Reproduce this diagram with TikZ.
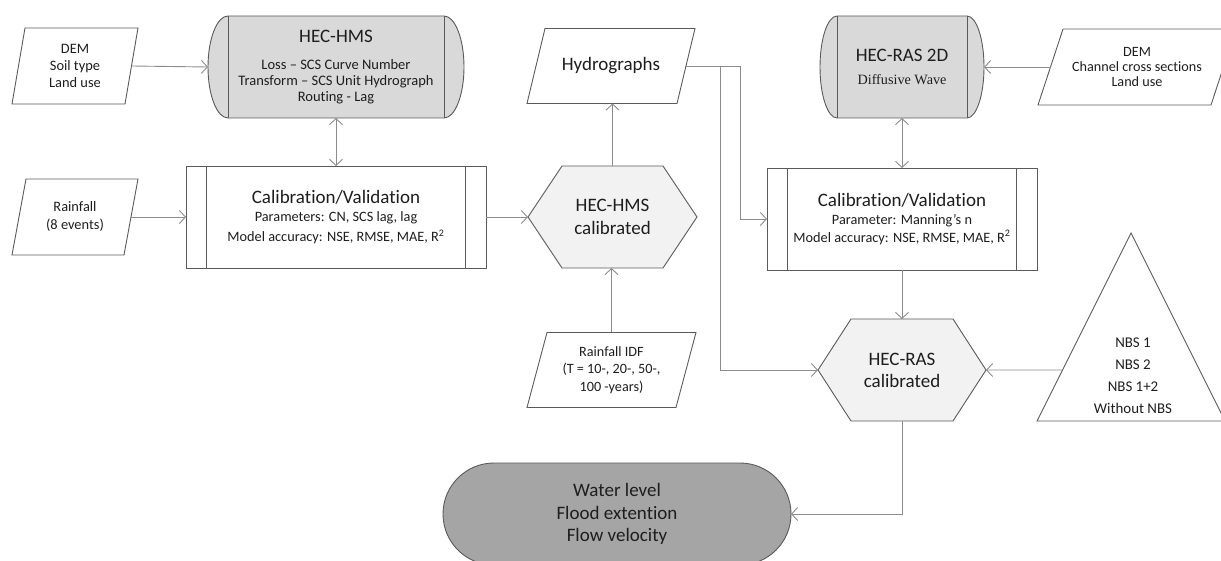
\documentclass[tikz,border=0pt]{standalone}
\usepackage{fontspec}
\setmainfont{Carlito}[Ligatures=NoCommon]
\newfontfamily\timesf{Liberation Serif}
\usetikzlibrary{arrows.meta,backgrounds,shapes.misc,calc}
\definecolor{conncol}{HTML}{8C8C8C}
\definecolor{edgecol}{HTML}{5A5A5A}
\definecolor{cylcol}{HTML}{D9D9D9}
\definecolor{hexcol}{HTML}{F2F2F2}
\definecolor{termcol}{HTML}{A5A5A5}
\definecolor{txtcol}{HTML}{1E1E1E}
\tikzset{
  base/.style={align=center, text=txtcol, inner sep=2pt, outer sep=0pt, draw=none},
  edge/.style={draw=edgecol, line width=0.9pt},
  fillcyl/.style={edge, fill=cylcol},
  fillhex/.style={edge, fill=hexcol},
  procbox/.style={base, draw=edgecol, line width=0.9pt, fill=white},
  conn/.style={draw=conncol, line width=0.9pt, -{Straight Barb[length=6pt,width=13pt]}},
  conntwo/.style={draw=conncol, line width=0.9pt, {Straight Barb[length=6pt,width=13pt]}-{Straight Barb[length=6pt,width=13pt]}},
  termbox/.style={base, shape=rounded rectangle, draw=edgecol, line width=0.9pt, fill=termcol},
}
\begin{document}
\begin{tikzpicture}[x=1pt,y=1pt]
\useasboundingbox (0,0) rectangle (1221,-561);

% ---------- nodes ----------
\node[base, font=\fontsize{14.4}{17}\selectfont, minimum width=113pt, minimum height=76pt] (dem1) at (75,-66) {DEM\\Soil type\\Land use};

\node[base, font=\fontsize{14.5}{16}\selectfont, minimum width=256pt, minimum height=102pt] (hms) at (336,-67)
  {{\fontsize{19}{19}\selectfont HEC-HMS}\\[11pt]Loss – SCS Curve Number\\Transform – SCS Unit Hydrograph\\Routing - Lag};

\node[base, font=\fontsize{14.4}{18}\selectfont, minimum width=112pt, minimum height=76pt] (rain1) at (75,-217) {Rainfall\\(8 events)};

\node[procbox, font=\fontsize{14.3}{20}\selectfont, minimum width=300pt, minimum height=102pt] (cal1) at (336,-217)
  {{\fontsize{19}{19}\selectfont Calibration/Validation}\\[-2pt]Parameters: CN, SCS lag, lag\\Model accuracy: NSE, RMSE, MAE, R\textsuperscript{2}};

\node[base, font=\fontsize{19}{23.5}\selectfont, minimum width=169pt, minimum height=102pt] (hexhms) at (612.5,-217) {HEC-HMS\\calibrated};

\node[base, font=\fontsize{19}{20}\selectfont, minimum width=150pt, minimum height=75pt] (hydro) at (611,-66) {Hydrographs};

\node[base, font=\fontsize{14.2}{17.5}\selectfont, minimum width=149pt, minimum height=75pt] (idf) at (611.5,-370) {Rainfall IDF\\(T = 10-, 20-, 50-,\\100 -years)};

\node[base, font=\fontsize{19}{22.5}\selectfont, minimum width=164pt, minimum height=102pt] (ras2d) at (902,-67)
  {HEC-RAS 2D\\{\timesf\fontsize{14.2}{14.2}\selectfont Diffusive Wave}};

\node[base, font=\fontsize{14.2}{15.5}\selectfont, minimum width=173pt, minimum height=76pt] (dem2) at (1137,-67) {DEM\\Channel cross sections\\Land use};

\node[procbox, font=\fontsize{14.3}{17.5}\selectfont, minimum width=270pt, minimum height=102pt] (cal2) at (902,-219)
  {{\fontsize{19}{19}\selectfont Calibration/Validation}\\[0.5pt]Parameter: Manning’s n\\Model accuracy: NSE, RMSE, MAE, R\textsuperscript{2}};

\node[base, font=\fontsize{19}{22}\selectfont, minimum width=168pt, minimum height=102pt] (hexras) at (902,-370) {HEC-RAS\\calibrated};

\coordinate (nbsA) at (1131,-233);
\coordinate (nbsL) at (1037,-421);
\coordinate (nbsR) at (1225,-421);
\coordinate (nbsin) at ($(nbsL)!0.2713!(nbsA)$);
\node[base, font=\fontsize{14.9}{22}\selectfont] (nbs) at (1133,-376) {NBS 1\\NBS 2\\NBS 1+2\\Without NBS};

\node[termbox, font=\fontsize{19}{22.5}\selectfont, minimum width=352pt, minimum height=102pt] (term) at (617,-514) {Water level\\Flood extention\\Flow velocity};

% ---------- shapes behind text ----------
\begin{pgfonlayer}{background}
  \path[fillcyl] ([xshift=20pt]hms.north west) -- ([xshift=-20pt]hms.north east)
     arc[start angle=90,end angle=-90,x radius=20pt,y radius=51pt]
     -- ([xshift=20pt]hms.south west)
     arc[start angle=270,end angle=90,x radius=20pt,y radius=51pt] -- cycle;
  \draw[edge] ([xshift=20pt]hms.north west) -- ([xshift=20pt]hms.south west);
  \draw[edge] ([xshift=-20pt]hms.north east) -- ([xshift=-20pt]hms.south east);
  \path[fillcyl] ([xshift=17pt]ras2d.north west) -- ([xshift=-17pt]ras2d.north east)
     arc[start angle=90,end angle=-90,x radius=17pt,y radius=51pt]
     -- ([xshift=17pt]ras2d.south west)
     arc[start angle=270,end angle=90,x radius=17pt,y radius=51pt] -- cycle;
  \draw[edge] ([xshift=17pt]ras2d.north west) -- ([xshift=17pt]ras2d.south west);
  \draw[edge] ([xshift=-17pt]ras2d.north east) -- ([xshift=-17pt]ras2d.south east);
  \path[fillhex] (hexhms.west) -- ([xshift=34pt]hexhms.north west) -- ([xshift=-34pt]hexhms.north east)
     -- (hexhms.east) -- ([xshift=-34pt]hexhms.south east) -- ([xshift=34pt]hexhms.south west) -- cycle;
  \path[fillhex] (hexras.west) -- ([xshift=33pt]hexras.north west) -- ([xshift=-33pt]hexras.north east)
     -- (hexras.east) -- ([xshift=-33pt]hexras.south east) -- ([xshift=33pt]hexras.south west) -- cycle;
\end{pgfonlayer}

\draw[edge] ([xshift=20pt]cal1.north west) -- ([xshift=20pt]cal1.south west);
\draw[edge] ([xshift=-21pt]cal1.north east) -- ([xshift=-21pt]cal1.south east);
\draw[edge] ([xshift=20pt]cal2.north west) -- ([xshift=20pt]cal2.south west);
\draw[edge] ([xshift=-21pt]cal2.north east) -- ([xshift=-21pt]cal2.south east);

\draw[edge] ([xshift=6.5pt]dem1.north west) -- ([xshift=6.5pt]dem1.north east) -- ([xshift=-6.5pt]dem1.south east) -- ([xshift=-6.5pt]dem1.south west) -- cycle;
\draw[edge] ([xshift=7pt]rain1.north west) -- ([xshift=7pt]rain1.north east) -- ([xshift=-7pt]rain1.south east) -- ([xshift=-7pt]rain1.south west) -- cycle;
\draw[edge] ([xshift=9pt]hydro.north west) -- ([xshift=9pt]hydro.north east) -- ([xshift=-9pt]hydro.south east) -- ([xshift=-9pt]hydro.south west) -- cycle;
\draw[edge] ([xshift=10pt]idf.north west) -- ([xshift=10pt]idf.north east) -- ([xshift=-10pt]idf.south east) -- ([xshift=-10pt]idf.south west) -- cycle;
\draw[edge] ([xshift=12.5pt]dem2.north west) -- ([xshift=12.5pt]dem2.north east) -- ([xshift=-12.5pt]dem2.south east) -- ([xshift=-12.5pt]dem2.south west) -- cycle;

\draw[edge] (nbsL) -- (nbsA) -- (nbsR) -- cycle;

% ---------- connectors ----------
\draw[conn] (dem1.east) -- (hms.west);
\draw[conntwo] (hms.south) -- (cal1.north);
\draw[conn] (rain1.east) -- (cal1.west);
\draw[conn] (cal1.east) -- (hexhms.west);
\draw[conn] (hexhms.north) -- (hexhms.north |- hydro.south);
\draw[conn] (idf.north) -- (idf.north |- hexhms.south);
\draw[conn] (hydro.east) -- ++(34pt,0) |- (hexras.west);
\draw[conn] (hydro.east) -- ++(54pt,0) |- (cal2.west);
\draw[conntwo] (ras2d.south) -- (cal2.north);
\draw[conn] (dem2.west) -- (ras2d.east);
\draw[conn] (cal2.south) -- (hexras.north);
\draw[conn] (nbsin) -- (hexras.east);
\draw[conn] (hexras.south) |- (term.east);
\end{tikzpicture}
\end{document}
